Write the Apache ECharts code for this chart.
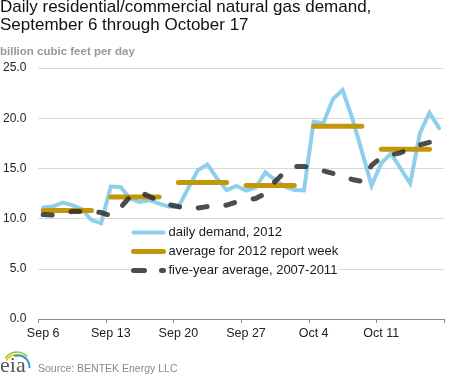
<!DOCTYPE html>
<html>
<head>
<meta charset="utf-8">
<script src="https://cdn.jsdelivr.net/npm/echarts@6/dist/echarts.min.js"></script>
<style>
html,body{margin:0;padding:0;background:#fff;}
#chart{width:468px;height:389px;}
</style>
</head>
<body>
<div id="chart"></div>
<script>
var categories = [
  'Sep 6','Sep 7','Sep 8','Sep 9','Sep 10','Sep 11','Sep 12',
  'Sep 13','Sep 14','Sep 15','Sep 16','Sep 17','Sep 18','Sep 19',
  'Sep 20','Sep 21','Sep 22','Sep 23','Sep 24','Sep 25','Sep 26',
  'Sep 27','Sep 28','Sep 29','Sep 30','Oct 1','Oct 2','Oct 3',
  'Oct 4','Oct 5','Oct 6','Oct 7','Oct 8','Oct 9','Oct 10',
  'Oct 11','Oct 12','Oct 13','Oct 14','Oct 15','Oct 16','Oct 17'
];
var dailyDemand = [
  11.1, 11.2, 11.6, 11.35, 10.95, 9.85, 9.55,
  13.2, 13.15, 12.0, 11.65, 11.85, 11.5, 11.2,
  11.15, 13.0, 14.8, 15.4, 14.0, 12.85, 13.25,
  12.8, 13.1, 14.6, 13.85, 13.2, 12.85, 12.8,
  19.65, 19.5, 21.9, 22.8, 20.0, 16.7, 13.3,
  15.5, 16.5, 15.0, 13.5, 18.5, 20.55, 19.0
];
var reportWeekAvg = [
  10.8, 10.8, 10.8, 10.8, 10.8, 10.8, null,
  12.15, 12.15, 12.15, 12.15, 12.15, 12.15, null,
  13.6, 13.6, 13.6, 13.6, 13.6, 13.6, null,
  13.3, 13.3, 13.3, 13.3, 13.3, 13.3, null,
  19.2, 19.2, 19.2, 19.2, 19.2, 19.2, null,
  16.9, 16.9, 16.9, 16.9, 16.9, 16.9, null
];
var fiveYearAvg = [
  10.4, 10.35, 10.5, 10.7, 10.7, 10.7, 10.6,
  10.3, 11.1, 12.2, 12.65, 12.2, 11.75, 11.4,
  11.2, 10.95, 11.05, 11.2, 11.15, 11.35, 11.65,
  11.85, 12.0, 12.5, 13.7, 14.6, 15.2, 15.2,
  15.0, 14.75, 14.5, 14.2, 13.9, 13.7, 15.3,
  16.1, 16.35, 16.55, 17.0, 17.35, 17.6, 18.05
];
var seriesNames = ['daily demand, 2012', 'average for 2012 report week', 'five-year average, 2007-2011'];
var yTicks = [0, 5, 10, 15, 20, 25];

var BLUE = '#8ecfec', GOLD = '#c4960a', DARK = 'rgba(45,45,45,0.85)';
var chart = echarts.init(document.getElementById('chart'), null, {renderer: 'canvas'});
var FONT = 'Liberation Sans, Arial, sans-serif';
chart.setOption({
  animation: false,
  backgroundColor: '#fff',
  textStyle: {fontFamily: FONT},
  title: {
    text: 'Daily residential/commercial natural gas demand,\nSeptember 6 through October 17',
    left: 0, top: -2, padding: 0,
    textStyle: {fontFamily: FONT, fontSize: 17, fontWeight: 'normal', color: '#111', lineHeight: 18}
  },
  grid: {left: 35, right: 24, top: 68, bottom: 70, containLabel: false},
  legend: {
    orient: 'vertical', left: 131, top: 226, padding: 0,
    itemWidth: 30, itemHeight: 14, itemGap: 6,
    backgroundColor: '#fff',
    itemStyle: {opacity: 0},
    textStyle: {fontFamily: FONT, fontSize: 13, color: '#1a1a1a'},
    data: [
      {name: seriesNames[0], lineStyle: {width: 4, color: BLUE, cap: 'round'}},
      {name: seriesNames[1], lineStyle: {width: 5, color: GOLD, cap: 'round'}},
      {name: seriesNames[2], lineStyle: {width: 5, color: DARK, cap: 'round', type: [11, 17]}}
    ]
  },
  xAxis: {
    type: 'category', data: categories, boundaryGap: true,
    axisLine: {lineStyle: {color: '#8c8c8c', width: 1}},
    axisTick: {show: true, length: 4, interval: 6, lineStyle: {color: '#8c8c8c'}},
    axisLabel: {interval: 6, margin: 8, fontSize: 12.5, color: '#222', fontFamily: FONT},
    splitLine: {show: false}
  },
  yAxis: {
    type: 'value', min: yTicks[0], max: yTicks[yTicks.length - 1], interval: 5,
    axisLine: {show: false}, axisTick: {show: false},
    axisLabel: {margin: 12, fontSize: 12, color: '#222', fontFamily: FONT,
      formatter: function (v) { return v.toFixed(1); }},
    splitLine: {lineStyle: {color: '#d9d9d9', width: 1}}
  },
  series: [
    {
      name: seriesNames[0], type: 'line', data: dailyDemand, symbol: 'none', z: 2,
      lineStyle: {color: BLUE, width: 4, cap: 'round', join: 'miter'},
      itemStyle: {color: BLUE}
    },
    {
      name: seriesNames[1], type: 'line', data: reportWeekAvg, symbol: 'none', z: 3,
      connectNulls: false,
      lineStyle: {color: GOLD, width: 5, cap: 'round'},
      itemStyle: {color: GOLD}
    },
    {
      name: seriesNames[2], type: 'line', data: fiveYearAvg, symbol: 'none', z: 4,
      lineStyle: {color: DARK, width: 5, cap: 'round', type: [9, 19], join: 'round'},
      itemStyle: {color: DARK}
    }
  ],
  graphic: [
    {type: 'text', left: 0, top: 46, style: {text: 'billion cubic feet per day', fill: '#999', font: 'bold 11.5px ' + FONT}},
    {type: 'text', x: 38, y: 369, style: {text: 'Source: BENTEK Energy LLC', fill: '#888', font: '10.5px ' + FONT, verticalAlign: 'middle'}},
    {type: 'text', x: 0, y: 366, style: {text: 'eia', fill: '#555', font: '22px Liberation Serif, Times New Roman, serif', verticalAlign: 'middle'}},
    {type: 'arc', shape: {cx: 17, cy: 366, r: 14, startAngle: -2.55, endAngle: -0.75, clockwise: true}, style: {stroke: '#8cc63f', lineWidth: 1.6, fill: null}},
    {type: 'arc', shape: {cx: 17, cy: 367, r: 12.5, startAngle: -2.6, endAngle: -0.6, clockwise: true}, style: {stroke: '#f2c200', lineWidth: 1.6, fill: null}},
    {type: 'arc', shape: {cx: 18, cy: 367, r: 11.5, startAngle: -1.9, endAngle: 0.1, clockwise: true}, style: {stroke: '#2a9fd6', lineWidth: 2, fill: null}}
  ]
});
</script>
</body>
</html>
